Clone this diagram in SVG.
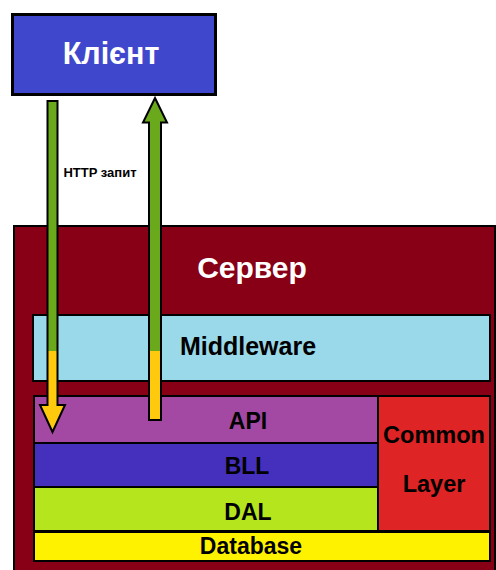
<svg xmlns="http://www.w3.org/2000/svg" width="496" height="570" viewBox="0 0 496 570">
<style>
.t{font-family:"Liberation Sans",Arial,sans-serif;font-weight:bold;text-anchor:middle}
.w{fill:#ffffff}
.k{fill:#000000}
.box{stroke:#000;stroke-width:2}
.arr{stroke:#000;stroke-width:2;stroke-linejoin:miter}
</style>
<defs>
<linearGradient id="gy" gradientUnits="userSpaceOnUse" x1="0" y1="0" x2="0" y2="570">
<stop offset="0.6158" stop-color="#6aa81c"/>
<stop offset="0.6158" stop-color="#ffc90e"/>
</linearGradient>
</defs>
<rect width="496" height="570" fill="#ffffff"/>
<g id="client">
<rect x="12.5" y="14.5" width="203" height="80" fill="#3f48cc" stroke="#000" stroke-width="3"/>
<text class="t w" x="111" y="64" font-size="30.5">Клієнт</text>
</g>
<g id="server">
<rect x="14" y="226" width="481" height="360" fill="#880015" class="box"/>
<text class="t w" x="252" y="278" font-size="30">Сервер</text>
</g>
<g id="middleware">
<rect x="33" y="315" width="457" height="66" fill="#99d9ea" class="box"/>
<text class="t k" x="248" y="355" font-size="25">Middleware</text>
</g>
<g id="api">
<rect x="34" y="396" width="344" height="47" fill="#a349a4" class="box"/>
<text class="t k" x="248" y="429" font-size="23">API</text>
</g>
<g id="bll">
<rect x="34" y="443" width="344" height="44" fill="#452fbd" class="box"/>
<text class="t k" x="247" y="474" font-size="23">BLL</text>
</g>
<g id="dal">
<rect x="34" y="487" width="344" height="44" fill="#b5e61d" class="box"/>
<text class="t k" x="248" y="520" font-size="23">DAL</text>
</g>
<g id="common">
<rect x="378" y="396" width="112" height="135" fill="#de2424" class="box"/>
<text class="t k" x="434" y="443" font-size="23.5">Common</text>
<text class="t k" x="434" y="492" font-size="23.5">Layer</text>
</g>
<g id="database">
<rect x="34" y="532" width="456" height="29" fill="#fff200" class="box"/>
<text class="t k" x="251" y="554" font-size="23">Database</text>
</g>
<g id="connectors">
<path class="arr" fill="url(#gy)" d="M47.5 101 L57.5 101 L57.5 405 L65 405 L52.5 432 L40 405 L47.5 405 Z"/>
<path class="arr" fill="url(#gy)" d="M155 98 L167 122.5 L161 122.5 L161 420 L149 420 L149 122.5 L143 122.5 Z"/>
<text class="t k" x="100" y="177" font-size="13">HTTP запит</text>
</g>
</svg>
